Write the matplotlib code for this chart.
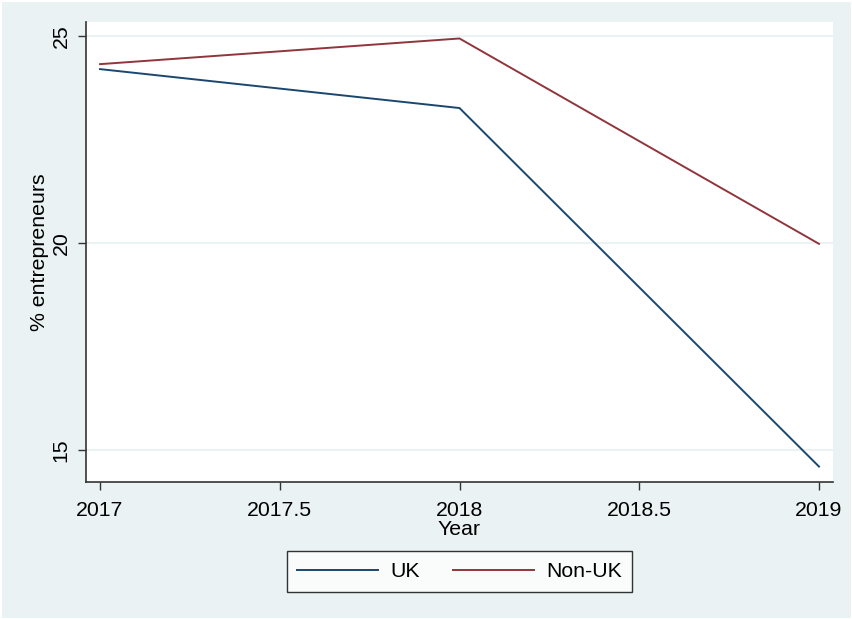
import matplotlib
matplotlib.use("Agg")
import matplotlib.pyplot as plt

plt.rcParams['font.family'] = ['Liberation Sans', 'DejaVu Sans']

years = [2017, 2018, 2019]
uk = [24.20, 23.26, 14.60]
non_uk = [24.32, 24.94, 19.98]
series_labels = ["UK", "Non-UK"]
x_ticks = [2017, 2017.5, 2018, 2018.5, 2019]
x_ticklabels = ["2017", "2017.5", "2018", "2018.5", "2019"]
y_ticks = [15, 20, 25]

BG = "#EAF2F3"
NAVY = "#1A476F"
MAROON = "#90353B"
W, H = 852, 619
FS = 15.3

fig = plt.figure(figsize=(W / 100, H / 100), dpi=100)
fig.patch.set_facecolor(BG)
fig.patch.set_edgecolor("white")
fig.patch.set_linewidth(2)

left, right, top, bottom = 86, 833, 22, 482
ax = fig.add_axes([left / W, 1 - bottom / H, (right - left) / W, (bottom - top) / H])
ax.set_facecolor("white")

ax.plot(years, uk, color=NAVY, lw=1.4, label=series_labels[0], solid_joinstyle="miter")
ax.plot(years, non_uk, color=MAROON, lw=1.4, label=series_labels[1], solid_joinstyle="miter")

ax.set_xlim(2016.961, 2019.039)
ax.set_ylim(14.227, 25.338)
ax.set_xticks(x_ticks)
ax.set_xticklabels(x_ticklabels)
ax.set_yticks(y_ticks)
ax.set_yticklabels([str(v) for v in y_ticks], rotation=90, va="center")

ax.grid(axis="y", color=BG, lw=1.5)
ax.set_axisbelow(True)
for side in ("top", "right"):
    ax.spines[side].set_visible(False)
for side in ("left", "bottom"):
    ax.spines[side].set_color("#333333")
    ax.spines[side].set_linewidth(1.2)
ax.tick_params(axis="both", direction="out", length=6, width=1, color="#333333",
               labelsize=FS)
ax.tick_params(axis="x", pad=8)
ax.tick_params(axis="y", pad=5)

ax.set_xlabel("Year", fontsize=FS, labelpad=0)
ax.set_ylabel("% entrepreneurs", fontsize=FS, labelpad=2)

leg = fig.legend(loc="center", bbox_to_anchor=((287 + 632) / 2 / W, 1 - 571.5 / H),
                 ncol=2, fontsize=FS, frameon=True, fancybox=False,
                 handlelength=3.8, handletextpad=0.55, columnspacing=1.6,
                 borderpad=0.5, edgecolor="black")
leg.get_frame().set_linewidth(1.0)
leg.get_frame().set_facecolor("white")

fig.savefig("out.png", dpi=100, facecolor=fig.get_facecolor(), edgecolor=fig.get_edgecolor())
